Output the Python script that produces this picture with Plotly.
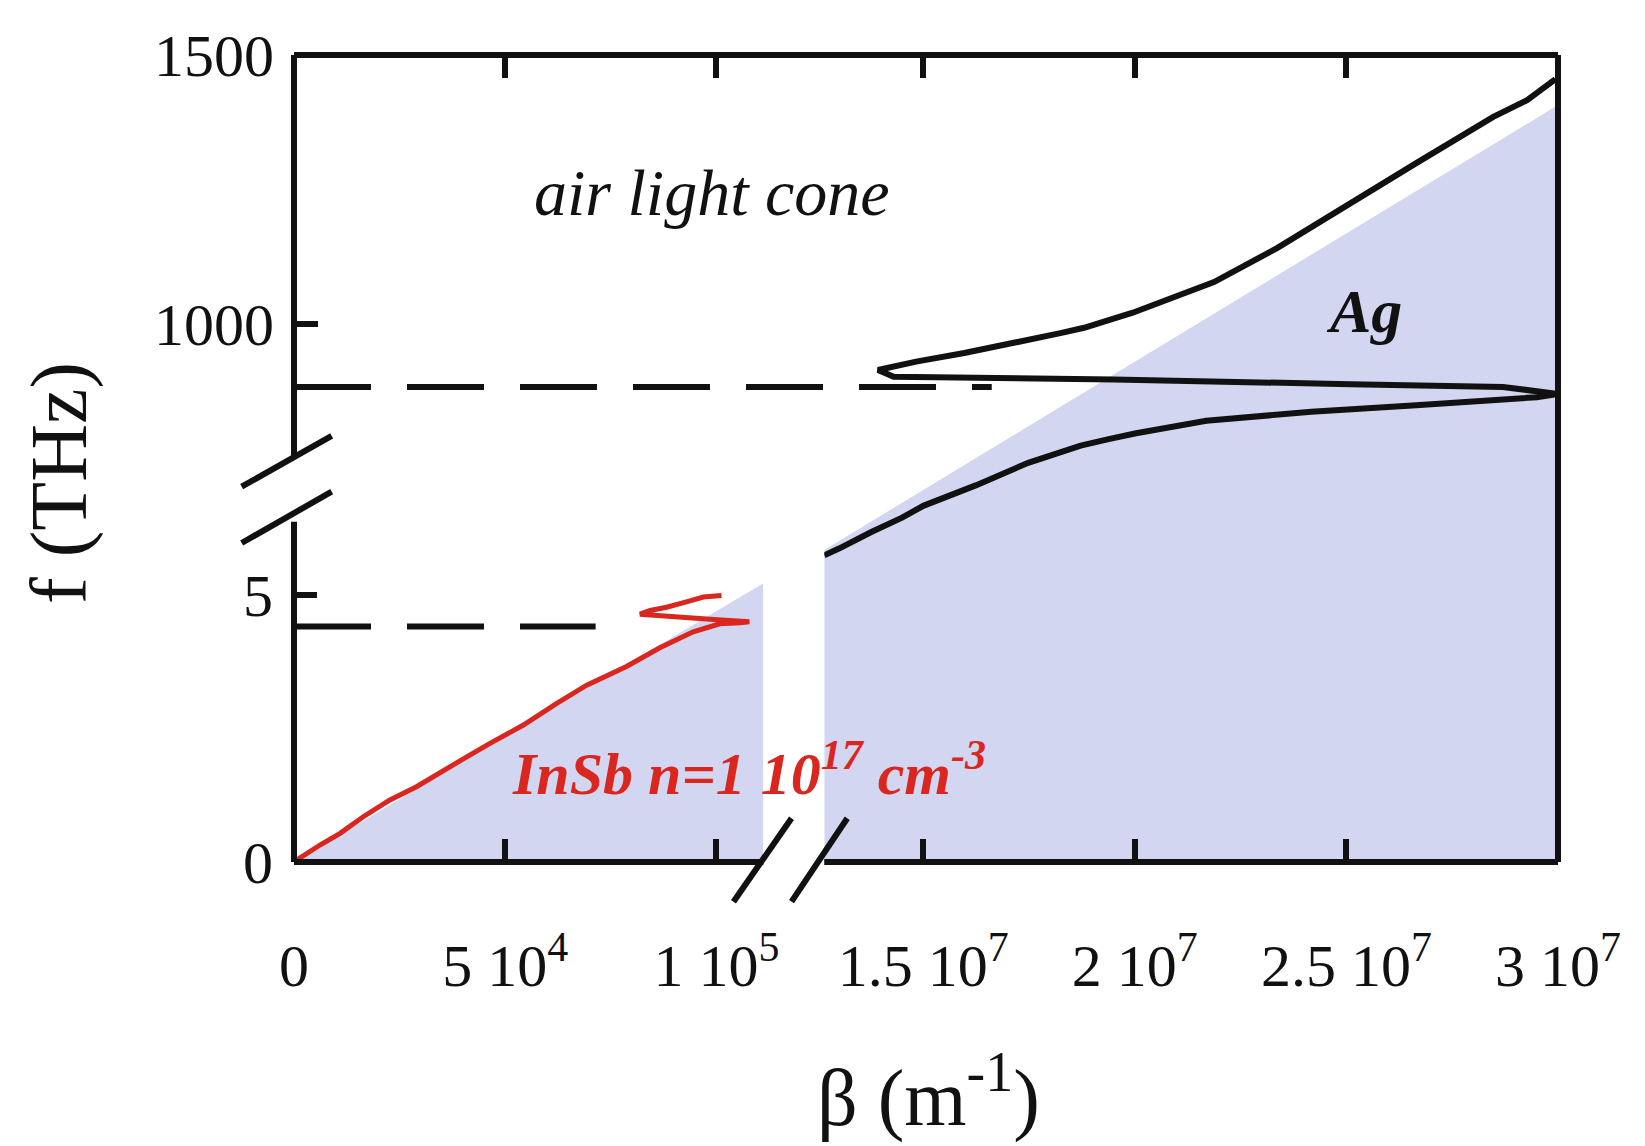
import plotly.graph_objects as go

# ---------------- data ----------------
# InSb surface-plasmon branch (left panel): beta in m^-1, f in THz
insb_beta = [0, 640, 6150, 10900, 16400, 22700, 29000, 36100, 40900, 46400, 54300,
             62200, 69300, 78700, 86600, 94500, 100800, 105600, 107800,
             98500, 90600, 81900, 84300, 88200, 92900, 96900, 101200]
insb_f = [0, 0.037, 0.318, 0.537, 0.848, 1.161, 1.41, 1.755, 1.97, 2.22, 2.565,
          2.97, 3.31, 3.66, 4.01, 4.31, 4.46, 4.48, 4.50,
          4.545, 4.59, 4.64, 4.71, 4.77, 4.87, 4.96, 4.99]

# InSb light cone edge (left panel)
insb_cone_beta = [0, 1.111e5]
insb_cone_f = [0, 5.22]

# Ag surface-plasmon branch (right panel): beta in m^-1, f in THz
ag_beta = [1.266e7, 1.302e7, 1.376e7, 1.45e7, 1.50e7, 1.624e7, 1.748e7, 1.872e7,
           1.938e7, 2.003e7, 2.169e7, 2.417e7, 2.665e7, 2.80e7, 2.95e7, 3.0e7,
           2.87e7, 2.51e7, 1.95e7, 1.43e7, 1.393e7,
           1.483e7, 1.597e7, 1.824e7, 1.88e7, 1.995e7, 2.143e7, 2.187e7, 2.336e7,
           2.506e7, 2.665e7, 2.847e7, 2.927e7, 2.994e7]
ag_f = [570, 583, 613, 640, 662, 700, 742, 774,
        786, 797, 820, 837, 849, 856, 864, 870,
        883, 888, 897, 902, 914.5,
        930, 946, 983, 993, 1021, 1067, 1078, 1141,
        1221, 1299, 1385, 1416, 1455]

# Ag light cone edge (right panel)
ag_cone_beta = [1.266e7, 3.0e7]
ag_cone_f = [580, 1407]

# asymptotic surface-plasmon frequencies (dashed lines)
insb_sp_f = 4.41      # THz
insb_sp_beta_end = 71400
ag_sp_f = 883         # THz

# axis ranges and ticks
x1_range = [0, 1.111e5]
x2_range = [1.266e7, 3.0e7]
y1_range = [0, 15.11]
y2_range = [0, 1500]
x1_ticks = [0, 5e4, 1e5]
x1_labels = ["0", "5 10<sup>4</sup>", "1 10<sup>5</sup>"]
x2_ticks = [1.5e7, 2e7, 2.5e7, 3e7]
x2_labels = ["1.5 10<sup>7</sup>", "2 10<sup>7</sup>", "2.5 10<sup>7</sup>", "3 10<sup>7</sup>"]
y1_ticks = [0, 5]
y1_labels = ["0", "5"]
y2_ticks = [1000, 1500]
y2_labels = ["1000", "1500"]

# ---------------- styles ----------------
SERIF = "Liberation Serif"
CONE = "rgb(211,214,241)"
RED = "#d9261f"
BLACK = "#111111"
LW = 6
TICK = dict(ticks="inside", ticklen=23, tickwidth=6, tickcolor=BLACK)

fig = go.Figure()

# shaded cones
fig.add_trace(go.Scatter(x=insb_cone_beta, y=insb_cone_f, mode="lines", fill="tozeroy",
                         fillcolor=CONE, line=dict(width=0), xaxis="x", yaxis="y",
                         hoverinfo="skip", showlegend=False))
fig.add_trace(go.Scatter(x=ag_cone_beta, y=ag_cone_f, mode="lines", fill="tozeroy",
                         fillcolor=CONE, line=dict(width=0), xaxis="x2", yaxis="y2",
                         hoverinfo="skip", showlegend=False))

# dashed asymptote (InSb)
fig.add_trace(go.Scatter(x=[0, insb_sp_beta_end], y=[insb_sp_f, insb_sp_f], mode="lines",
                         line=dict(color=BLACK, width=LW, dash="77px,36px"),
                         xaxis="x", yaxis="y", showlegend=False, hoverinfo="skip"))

# dispersion curves
fig.add_trace(go.Scatter(x=insb_beta, y=insb_f, mode="lines",
                         line=dict(color=RED, width=5), xaxis="x", yaxis="y",
                         showlegend=False))
fig.add_trace(go.Scatter(x=ag_beta, y=ag_f, mode="lines",
                         line=dict(color=BLACK, width=6), xaxis="x2", yaxis="y2",
                         showlegend=False))

tickfont = dict(family=SERIF, size=60, color=BLACK)

fig.update_layout(
    width=1637, height=1138,
    margin=dict(l=286, r=87, t=47, b=284),
    paper_bgcolor="white", plot_bgcolor="rgba(0,0,0,0)",
    showlegend=False,
    xaxis=dict(domain=[0, 0.3713], range=x1_range, anchor="y", tickvals=x1_ticks,
               ticktext=x1_labels, showgrid=False, zeroline=False, showline=False,
               mirror="ticks", tickfont=tickfont, ticklabelstandoff=63, **TICK),
    xaxis2=dict(domain=[0.4195, 1], range=x2_range, anchor="y2", tickvals=x2_ticks,
                ticktext=x2_labels, showgrid=False, zeroline=False, showline=False,
                mirror="ticks", tickfont=tickfont, ticklabelstandoff=63, **TICK),
    yaxis=dict(domain=[0, 1], range=y1_range, anchor="x", tickvals=y1_ticks,
               ticktext=y1_labels, showgrid=False, zeroline=False, showline=False,
               tickfont=tickfont, ticklabelstandoff=20, **TICK),
    yaxis2=dict(domain=[0, 1], range=y2_range, anchor="free", position=0,
                tickvals=y2_ticks, ticktext=y2_labels, showgrid=False, zeroline=False,
                showline=False, tickfont=tickfont, ticklabelstandoff=20, **TICK),
    yaxis3=dict(overlaying="y2", range=y2_range, anchor="x2", side="right",
                tickvals=[y2_ticks[0]], showticklabels=False, showgrid=False,
                zeroline=False, showline=False, **TICK),
    yaxis4=dict(overlaying="y", range=y1_range, anchor="x2", side="right",
                tickvals=[y1_ticks[1]], showticklabels=False, showgrid=False,
                zeroline=False, showline=False, **TICK),
)

# frame and break marks (paper coordinates of the plot area)
line = dict(color=BLACK, width=LW)
shapes = [
    dict(type="line", xref="paper", yref="paper", x0=0, x1=1, y0=1, y1=1, line=line),
    dict(type="line", xref="paper", yref="paper", x0=1, x1=1, y0=0, y1=1, line=line),
    dict(type="line", xref="paper", yref="paper", x0=0, x1=0.3713, y0=0, y1=0, line=line),
    dict(type="line", xref="paper", yref="paper", x0=0.4195, x1=1, y0=0, y1=0, line=line),
    dict(type="line", xref="paper", yref="paper", x0=0, x1=0, y0=0.5002, y1=1, line=line),
    dict(type="line", xref="paper", yref="paper", x0=0, x1=0, y0=0, y1=0.4217, line=line),
    # y-axis break
    dict(type="line", xref="paper", yref="paper", x0=-0.0414, x1=0.0298, y0=0.4651, y1=0.5279, line=line),
    dict(type="line", xref="paper", yref="paper", x0=-0.0414, x1=0.0298, y0=0.3953, y1=0.4589, line=line),
    # x-axis break
    dict(type="line", xref="paper", yref="paper", x0=0.3477, x1=0.3936, y0=-0.0492, y1=0.0542, line=line),
    dict(type="line", xref="paper", yref="paper", x0=0.3936, x1=0.4377, y0=-0.0492, y1=0.0542, line=line),
    # dashed asymptote (Ag)
    dict(type="line", xref="paper", yref="y2", x0=0, x1=0.552, y0=ag_sp_f, y1=ag_sp_f,
         line=dict(color=BLACK, width=LW, dash="77px,36px")),
]
fig.update_layout(shapes=shapes)

annotations = [
    dict(text="<i>air light cone</i>", xref="paper", yref="paper", x=0.3305, y=0.830,
         xanchor="center", yanchor="middle", showarrow=False,
         font=dict(family=SERIF, size=66, color=BLACK)),
    dict(text="<b><i>Ag</i></b>", xref="paper", yref="paper", x=0.8465, y=0.683,
         xanchor="center", yanchor="middle", showarrow=False,
         font=dict(family=SERIF, size=62, color=BLACK)),
    dict(text="<b><i>InSb n=1 10<sup>17</sup> cm<sup>-3</sup></i></b>", xref="paper",
         yref="paper", x=0.1709, y=0.115, xanchor="left", yanchor="middle",
         showarrow=False, font=dict(family=SERIF, size=60, color=RED)),
    dict(text="f (THz)", xref="paper", yref="paper", x=-0.186, y=0.4696,
         xanchor="center", yanchor="middle", textangle=-90, showarrow=False,
         font=dict(family=SERIF, size=80, color=BLACK)),
    dict(text="β (m<sup>-1</sup>)", xref="paper", yref="paper", x=0.5016, y=-0.285,
         xanchor="center", yanchor="middle", showarrow=False,
         font=dict(family=SERIF, size=80, color=BLACK)),
]
fig.update_layout(annotations=annotations)

fig.write_html("out.html")
